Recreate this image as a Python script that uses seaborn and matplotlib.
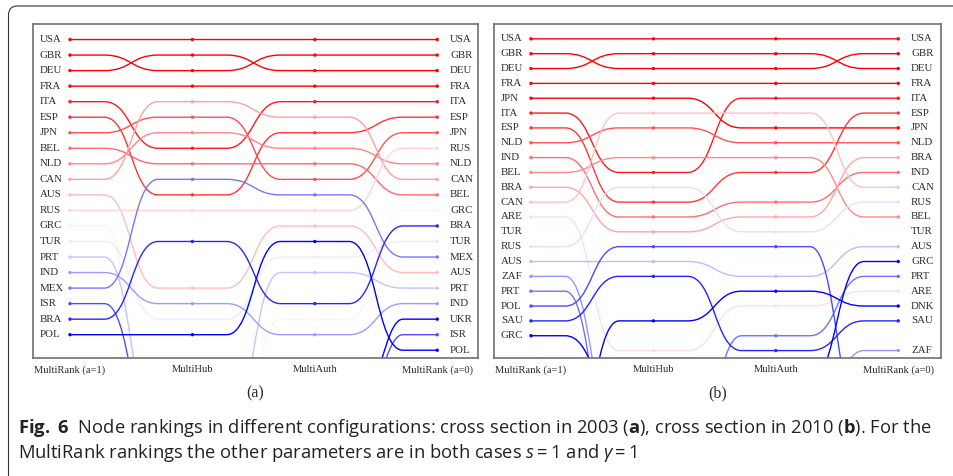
import numpy as np
import pandas as pd
import matplotlib.pyplot as plt
import seaborn as sns
from matplotlib import font_manager
from matplotlib.path import Path
from matplotlib.patches import PathPatch, FancyBboxPatch
from matplotlib.colors import TwoSlopeNorm

sns.set_style("white")
plt.rcParams["font.family"] = ["Liberation Serif", "DejaVu Serif"]

# ---------- data ----------
# ranks; values beyond the last row are countries that
# dropped out of the listed top ranks (estimated from where the lines leave the box)
columns = ["MultiRank (a=1)", "MultiHub", "MultiAuth", "MultiRank (a=0)"]

# (a) cross section 2003
countries_a = ["USA", "GBR", "DEU", "FRA", "ITA", "ESP", "JPN", "BEL", "NLD", "CAN",
               "AUS", "RUS", "GRC", "TUR", "PRT", "IND", "MEX", "ISR", "BRA", "POL", "UKR"]
multirank1_a = [1, 2, 3, 4, 5, 6, 7, 8, 9, 10, 11, 12, 13, 14, 15, 16, 17, 18, 19, 20, 30]
multihub_a = [1, 3, 2, 4, 8, 11, 6, 9, 7, 5, 17, 12, 29, 19, 26, 18, 10, 27, 14, 20, 30]
multiauth_a = [1, 2, 3, 4, 5, 7, 10, 9, 8, 6, 13, 12, 19, 15, 16, 20, 11, 30, 18, 14, 30]
multirank0_a = [1, 2, 3, 4, 5, 6, 7, 11, 9, 10, 16, 8, 12, 14, 17, 18, 15, 20, 13, 21, 19]

# (b) cross section 2010
countries_b = ["USA", "GBR", "DEU", "FRA", "JPN", "ITA", "ESP", "NLD", "IND", "BEL", "BRA",
               "CAN", "ARE", "TUR", "RUS", "AUS", "ZAF", "PRT", "POL", "SAU", "GRC", "DNK"]
multirank1_b = [1, 2, 3, 4, 5, 6, 7, 8, 9, 10, 11, 12, 13, 14, 15, 16, 17, 18, 19, 20, 21, 30]
multihub_b = [1, 3, 2, 4, 5, 10, 12, 7, 13, 9, 14, 6, 22, 21, 11, 16, 28, 30, 15, 17, 25, 20]
multiauth_b = [1, 3, 2, 4, 7, 5, 10, 8, 12, 9, 13, 6, 19, 16, 14, 17, 27, 21, 15, 22, 24, 18]
multirank0_b = [1, 2, 3, 4, 7, 5, 6, 8, 10, 13, 9, 11, 18, 14, 12, 15, 22, 17, 27, 20, 16, 19]

caption_1 = (r"$\mathbf{Fig.\ 6}$  Node rankings in different configurations: cross section in 2003 "
             r"($\mathbf{a}$), cross section in 2010 ($\mathbf{b}$). For the")
caption_2 = r"MultiRank rankings the other parameters are in both cases $s = 1$ and $\gamma = 1$"


def draw_panel(ax, countries, ranks, n_rows, norm):
    cmap = plt.get_cmap("bwr_r")
    palette = {c: cmap(norm(r)) for c, r in zip(countries, ranks[0])}

    # smooth "bump" connections between the four rankings
    for i, c in enumerate(countries):
        ys = [col[i] for col in ranks]
        verts = [(0, ys[0])]
        codes = [Path.MOVETO]
        for k in range(len(ys) - 1):
            y0, y1 = ys[k], ys[k + 1]
            verts += [(k + 0.28, y0), (k + 0.5, y0), (k + 0.5, y1), (k + 0.72, y1), (k + 1, y1)]
            codes += [Path.LINETO, Path.CURVE4, Path.CURVE4, Path.CURVE4, Path.LINETO]
        ax.add_patch(PathPatch(Path(verts, codes), fill=False,
                               edgecolor=palette[c], lw=1.0))

    long = pd.DataFrame({
        "country": np.tile(countries, len(ranks)),
        "col": np.repeat(np.arange(len(ranks)), len(countries)),
        "rank": np.concatenate(ranks),
    })
    long = long[long["rank"] <= n_rows]
    sns.scatterplot(data=long, x="col", y="rank", hue="country", palette=palette,
                    marker="o", s=6, linewidth=0, legend=False, ax=ax, zorder=3)

    # country names at both ends
    for c, r in zip(countries, ranks[0]):
        if r <= n_rows:
            ax.text(-0.245, r, c, ha="left", va="center", fontsize=7.8, color="#2a2a2a")
    for c, r in zip(countries, ranks[-1]):
        if r <= n_rows:
            ax.text(3.105, r, c, ha="left", va="center", fontsize=7.8, color="#2a2a2a")

    ax.set_ylim(n_rows + 0.5, 0)
    ax.set_yticks([])
    ax.set_xticks(range(len(columns)))
    ax.set_xticklabels(columns, fontsize=7.6, color="#2a2a2a")
    ax.tick_params(axis="x", length=0, pad=5)
    ax.set_xlabel("")
    ax.set_ylabel("")
    for sp in ax.spines.values():
        sp.set_visible(True)
        sp.set_color("#707070")
        sp.set_linewidth(1.2)


fig = plt.figure(figsize=(9.54, 4.76), dpi=100)
W, H = 954, 476
ax_a = fig.add_axes([33 / W, 1 - 358 / H, 445 / W, 334 / H])
ax_b = fig.add_axes([494 / W, 1 - 358 / H, 447 / W, 334 / H])

draw_panel(ax_a, countries_a, [multirank1_a, multihub_a, multiauth_a, multirank0_a],
           21, TwoSlopeNorm(vmin=4, vcenter=13.5, vmax=20))
ax_a.set_xlim(-0.302, 3.333)
draw_panel(ax_b, countries_b, [multirank1_b, multihub_b, multiauth_b, multirank0_b],
           22, TwoSlopeNorm(vmin=5, vcenter=14.2, vmax=21))
ax_b.set_xlim(-0.302, 3.349)

fig.text(255.5 / W, 1 - 393 / H, "(a)", ha="center", va="center", fontsize=11.5, color="#2a2a2a")
fig.text(717.5 / W, 1 - 393 / H, "(b)", ha="center", va="center", fontsize=11.5, color="#2a2a2a")

# outer figure frame (only top/left edges visible, rounded corner)
frame = FancyBboxPatch((0.085, -1.0), 20, 5.70, boxstyle="round,pad=0,rounding_size=0.09",
                       transform=fig.dpi_scale_trans, fill=False, ec="#333333", lw=0.8)
fig.add_artist(frame)

# caption
names = {f.name for f in font_manager.fontManager.ttflist}
cap_font = "Liberation Sans Narrow" if "Liberation Sans Narrow" in names else "Open Sans"
plt.rcParams["mathtext.fontset"] = "custom"
plt.rcParams["mathtext.rm"] = cap_font
plt.rcParams["mathtext.bf"] = cap_font + ":bold"
plt.rcParams["mathtext.it"] = cap_font + ":italic"

t1 = fig.text(18 / W, 1 - 433 / H, caption_1, ha="left", va="baseline",
              fontsize=13, family=[cap_font, "DejaVu Sans"], color="#222222")
renderer = fig.canvas.get_renderer()
width = t1.get_window_extent(renderer=renderer).width
size = 13 * 910 / width
t1.set_fontsize(size)
fig.text(18 / W, 1 - 458 / H, caption_2, ha="left", va="baseline",
         fontsize=size, family=[cap_font, "DejaVu Sans"], color="#222222")

fig.savefig("out.png", dpi=100)
